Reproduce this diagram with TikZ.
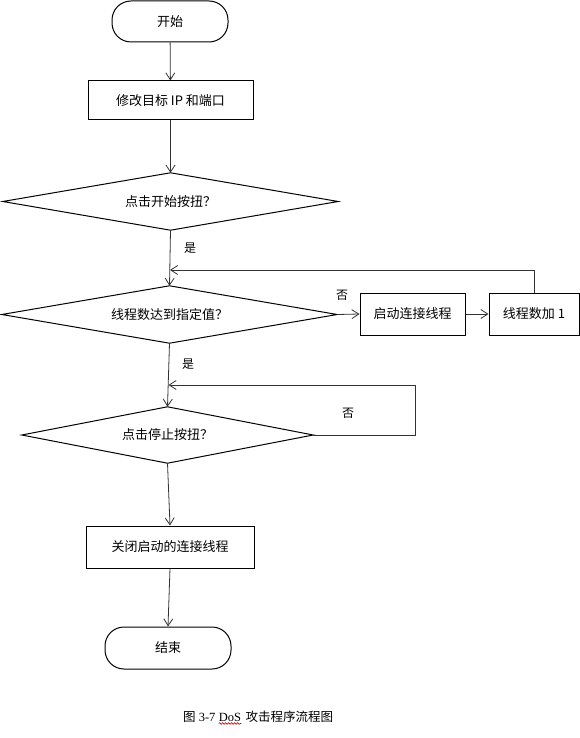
\documentclass[tikz,border=0pt]{standalone}
\usepackage{fontspec}
\setmainfont{Noto Sans CJK SC}
\newfontfamily\capserif{Liberation Serif}
\newfontfamily\capcjk{Noto Sans CJK SC}
\usetikzlibrary{shapes.geometric,arrows.meta,decorations.pathmorphing}
\begin{document}
\begin{tikzpicture}[x=1pt,y=-1pt,
  txt/.style={font=\fontsize{13}{15}\selectfont},
  term/.style={txt,draw=black,line width=1pt,rounded corners=19pt,minimum width=116pt,minimum height=41pt,inner sep=0pt},
  proc/.style={txt,draw=black,line width=1pt,inner sep=0pt},
  decbox/.style={txt,inner sep=0pt},
  decline/.style={draw=black,line width=1pt,line join=miter},
  arr/.style={draw=black!80,line width=0.8pt,-{Straight Barb[length=7pt,width=9pt,line width=0.8pt]}},
  lbl/.style={font=\fontsize{12}{14}\selectfont}
]
\useasboundingbox (0,0) rectangle (580,738);

\node[term] (start) at (170,21.5) {开始};
\node[proc,minimum width=165pt,minimum height=39pt] (b2) at (170.5,100.5) {修改目标 IP 和端口};
\node[decbox,minimum width=335pt,minimum height=57pt] (d1) at (170.5,201.5) {点击开始按扭？};
\node[decbox,minimum width=335pt,minimum height=57pt] (d2) at (169.5,314.5) {线程数达到指定值？};
\node[proc,minimum width=105pt,minimum height=42pt] (b3) at (412.5,314) {启动连接线程};
\node[proc,minimum width=90pt,minimum height=42pt] (b4) at (534,314) {线程数加 1};
\node[decbox,minimum width=291pt,minimum height=56pt] (d3) at (167.5,435) {点击停止按扭？};
\node[proc,minimum width=168pt,minimum height=42pt] (b5) at (170,547) {关闭启动的连接线程};
\node[term,minimum width=126pt,minimum height=42pt] (end) at (168,648) {结束};

\foreach \d in {d1,d2,d3}
  \draw[decline] (\d.north) -- (\d.east) -- (\d.south) -- (\d.west) -- cycle;

\node[lbl] (y1) at (190,248) {是};
\node[lbl] (n1) at (342,295) {否};
\node[lbl] (y2) at (188,364) {是};
\node[lbl] (n2) at (348,413) {否};

\coordinate (j1) at (170,270);
\coordinate (j2) at (168.5,385);
\coordinate (k2) at (415,385);

\draw[arr] (start) -- (b2);
\draw[arr] (b2) -- (d1.north);
\draw[arr] (d1.south) -- (d2.north);
\draw[arr] (d2.east) -- (b3.west);
\draw[arr] (b3) -- (b4);
\draw[arr] (b4.north) |- (j1);
\draw[arr] (d2.south) -- (d3.north);
\draw[arr] (d3.east) -| (k2) -- (j2);
\draw[arr] (d3.south) -- (b5.north);
\draw[arr] (b5.south) -- (end.north);

% caption
\node[anchor=base west,inner sep=0pt,font=\fontsize{12.5}{14}\selectfont] (c1) at (183,721) {\capcjk 图\capserif\ 3-7};
\node[anchor=base west,inner sep=0pt,font=\fontsize{12.5}{14}\selectfont\capserif] (c2) at ([xshift=3pt]c1.base east) {DoS};
\node[anchor=base west,inner sep=0pt,font=\fontsize{12.5}{14}\selectfont\capcjk] (c3) at ([xshift=4pt]c2.base east) {攻击程序流程图};
\draw[red!85!black,line width=0.6pt,decorate,decoration={snake,amplitude=0.9pt,segment length=3pt}]
  ([yshift=-2.5pt]c2.base west) -- ([yshift=-2.5pt]c2.base east);
\end{tikzpicture}
\end{document}
